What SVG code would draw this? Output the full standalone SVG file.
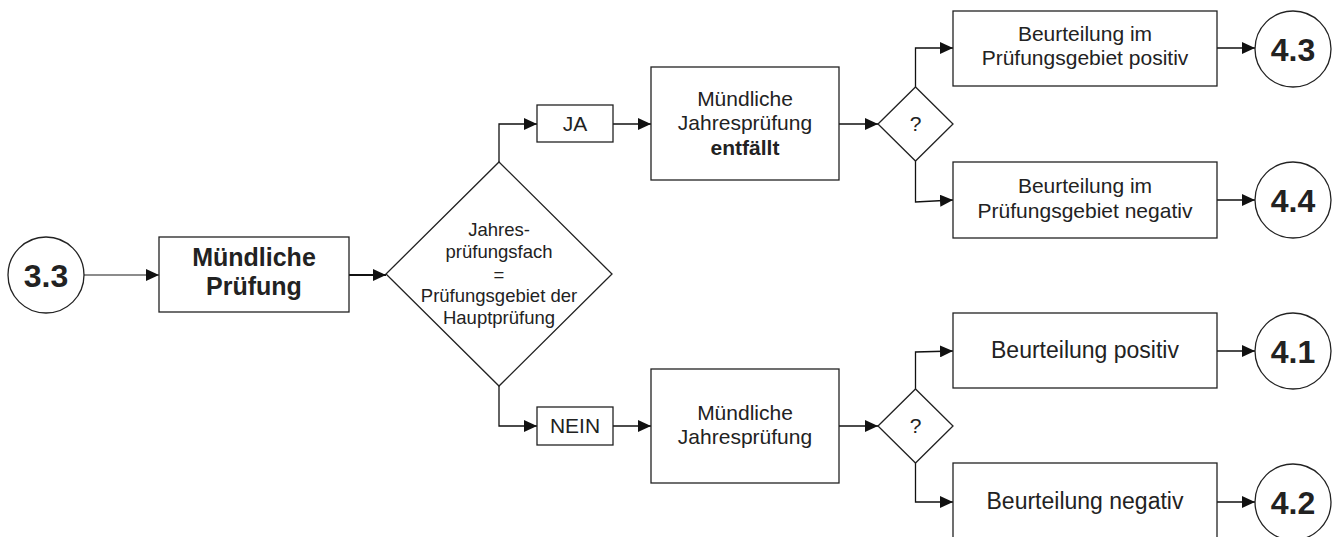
<svg xmlns="http://www.w3.org/2000/svg" width="1335" height="537" viewBox="0 0 1335 537">
  <style>
    .shape { fill: #ffffff; stroke: #222222; stroke-width: 1.3; }
    .edge { fill: none; stroke: #111111; stroke-width: 1.3; }
    .edge-thin { fill: none; stroke: #666666; stroke-width: 1.3; }
    .edge-bold { fill: none; stroke: #111111; stroke-width: 2.2; }
    text { font-family: "Liberation Sans", Arial, sans-serif; fill: #222222; text-anchor: middle; }
    .num { font-size: 32px; font-weight: bold; }
    .title { font-size: 25px; font-weight: bold; }
    .lbl { font-size: 21px; }
    .lbl-lg { font-size: 23px; }
    .cond { font-size: 18.5px; }
    .b { font-weight: bold; }
  </style>
  <defs>
    <marker id="arrow" markerUnits="userSpaceOnUse" markerWidth="14" markerHeight="12" refX="13" refY="6" orient="auto">
      <path d="M0,0 L13,6 L0,12 z" fill="#111111"/>
    </marker>
  </defs>

  <!-- connectors -->
  <g id="connectors">
    <path class="edge-thin" d="M84,275 H159" marker-end="url(#arrow)"/>
    <path class="edge-bold" d="M349,275 H386" marker-end="url(#arrow)"/>
    <!-- JA branch -->
    <path class="edge" d="M499,162 V124 H537" marker-end="url(#arrow)"/>
    <path class="edge" d="M613,124 H651" marker-end="url(#arrow)"/>
    <path class="edge" d="M839,124 H878" marker-end="url(#arrow)"/>
    <path class="edge" d="M915.5,87 V48 H953" marker-end="url(#arrow)"/>
    <path class="edge" d="M915.5,161 V202 L953,200" marker-end="url(#arrow)"/>
    <path class="edge" d="M1217,48 H1255" marker-end="url(#arrow)"/>
    <path class="edge" d="M1217,200 H1255" marker-end="url(#arrow)"/>
    <!-- NEIN branch -->
    <path class="edge" d="M499,386 V426 H537" marker-end="url(#arrow)"/>
    <path class="edge" d="M613,426 H651" marker-end="url(#arrow)"/>
    <path class="edge" d="M839,426 H878" marker-end="url(#arrow)"/>
    <path class="edge" d="M915.5,389 V352 L953,351" marker-end="url(#arrow)"/>
    <path class="edge" d="M915.5,463 V502 H953" marker-end="url(#arrow)"/>
    <path class="edge" d="M1217,351 H1255" marker-end="url(#arrow)"/>
    <path class="edge" d="M1217,502 H1255" marker-end="url(#arrow)"/>
  </g>

  <g id="start-3-3">
    <circle class="shape" cx="46" cy="275" r="38"/>
    <text class="num" x="46" y="286.5">3.3</text>
  </g>

  <g id="muendliche-pruefung">
    <rect class="shape" x="159" y="237" width="190" height="75"/>
    <text class="title" x="254" y="266">Mündliche</text>
    <text class="title" x="254" y="295">Prüfung</text>
  </g>

  <g id="decision-fach">
    <polygon class="shape" points="499,162 612,274 499,386 386,274"/>
    <text class="cond" x="499" y="236">Jahres-</text>
    <text class="cond" x="499" y="258">prüfungsfach</text>
    <text class="cond" x="499" y="281">=</text>
    <text class="cond" x="499" y="302">Prüfungsgebiet der</text>
    <text class="cond" x="499" y="324">Hauptprüfung</text>
  </g>

  <g id="ja">
    <rect class="shape" x="537" y="105" width="76" height="37"/>
    <text class="lbl" x="575" y="131">JA</text>
  </g>

  <g id="nein">
    <rect class="shape" x="537" y="407" width="76" height="38"/>
    <text class="lbl" x="575" y="433">NEIN</text>
  </g>

  <g id="jahrespruefung-entfaellt">
    <rect class="shape" x="651" y="67" width="188" height="113"/>
    <text class="lbl" x="745" y="106">Mündliche</text>
    <text class="lbl" x="745" y="130">Jahresprüfung</text>
    <text class="lbl b" x="745" y="155">entfällt</text>
  </g>

  <g id="jahrespruefung">
    <rect class="shape" x="651" y="369" width="188" height="114"/>
    <text class="lbl" x="745" y="420">Mündliche</text>
    <text class="lbl" x="745" y="444">Jahresprüfung</text>
  </g>

  <g id="decision-upper">
    <polygon class="shape" points="878,124 915.5,87 953,124 915.5,161"/>
    <text class="lbl" x="915.5" y="131">?</text>
  </g>

  <g id="decision-lower">
    <polygon class="shape" points="878,426 915.5,389 953,426 915.5,463"/>
    <text class="lbl" x="915.5" y="433">?</text>
  </g>

  <g id="gebiet-positiv">
    <rect class="shape" x="953" y="11" width="264" height="75"/>
    <text class="lbl" x="1085" y="41">Beurteilung im</text>
    <text class="lbl" x="1085" y="65">Prüfungsgebiet positiv</text>
  </g>

  <g id="gebiet-negativ">
    <rect class="shape" x="953" y="162" width="264" height="76"/>
    <text class="lbl" x="1085" y="193">Beurteilung im</text>
    <text class="lbl" x="1085" y="218">Prüfungsgebiet negativ</text>
  </g>

  <g id="positiv">
    <rect class="shape" x="953" y="313" width="264" height="75"/>
    <text class="lbl-lg" x="1085" y="358">Beurteilung positiv</text>
  </g>

  <g id="negativ">
    <rect class="shape" x="953" y="463" width="264" height="80"/>
    <text class="lbl-lg" x="1085" y="509">Beurteilung negativ</text>
  </g>

  <g id="end-4-3">
    <circle class="shape" cx="1293" cy="49" r="38"/>
    <text class="num" x="1293" y="60.5">4.3</text>
  </g>

  <g id="end-4-4">
    <circle class="shape" cx="1293" cy="200" r="38"/>
    <text class="num" x="1293" y="211.5">4.4</text>
  </g>

  <g id="end-4-1">
    <circle class="shape" cx="1293" cy="351" r="38"/>
    <text class="num" x="1293" y="362.5">4.1</text>
  </g>

  <g id="end-4-2">
    <circle class="shape" cx="1293" cy="502" r="38"/>
    <text class="num" x="1293" y="513.5">4.2</text>
  </g>
</svg>
